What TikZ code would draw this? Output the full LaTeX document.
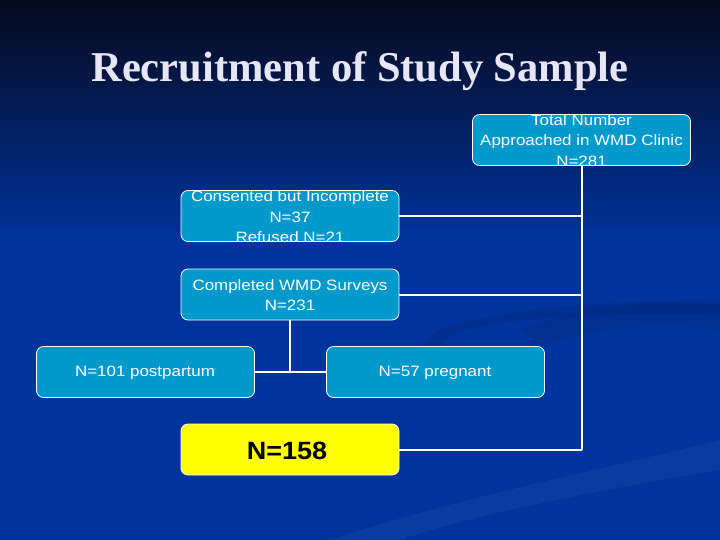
\documentclass[tikz,border=0pt]{standalone}
\usepackage{fontspec}
\setmainfont{Liberation Sans}[FakeStretch=1.13]
\newfontfamily\titlefont{Liberation Serif}
\newfontfamily\bigfont{Liberation Sans}[FakeStretch=1.08]
\usetikzlibrary{calc}
\definecolor{bgtop}{HTML}{060A1C}
\definecolor{bgmid}{HTML}{0A2066}
\definecolor{bgbot}{HTML}{00339C}
\definecolor{boxfill}{HTML}{0099CC}
\definecolor{titlecol}{HTML}{E6E6F6}
\definecolor{yellowfill}{HTML}{FFFF00}
\tikzset{
  flowbox/.style={draw=white, line width=0.8pt, fill=boxfill, rounded corners=7pt,
    minimum width=218pt, minimum height=51pt, inner sep=0pt},
  yellowbox/.style={flowbox, fill=yellowfill},
  boxtext/.style={text=white, font=\fontsize{15}{20.5}\selectfont, align=center, inner sep=0pt},
  bigtext/.style={text=black, font=\bigfont\fontsize{25}{28}\selectfont\bfseries, inner sep=0pt},
  link/.style={draw=white, line width=2pt},
}
\begin{document}
\begin{tikzpicture}[x=1pt,y=-1pt]
\useasboundingbox (0,0) rectangle (720,540);
\fill[bgbot] (0,0) rectangle (720,540);
\shade[top color=bgtop, middle color=bgmid, bottom color=bgbot] (0,0) rectangle (720,240);
% faint swooshes
\fill[black, opacity=0.07] (720,300) .. controls (560,300) and (420,320) .. (425,345) .. controls (430,370) and (540,380) .. (600,420) .. controls (560,390) and (450,370) .. (445,345) .. controls (440,325) and (560,310) .. (720,315) -- cycle;
\fill[white, opacity=0.04] (330,540) .. controls (450,500) and (600,470) .. (720,440) -- (720,470) .. controls (600,490) and (470,515) .. (400,540) -- cycle;
\fill[black, opacity=0.06] (520,330) .. controls (600,300) and (680,300) .. (720,305) -- (720,330) .. controls (660,320) and (590,330) .. (540,345) -- cycle;
% title
\node[text=titlecol, font=\titlefont\bfseries\fontsize{42.5}{46}\selectfont, anchor=base] (title) at (360,82) {Recruitment of Study Sample};
% boxes
\node[flowbox] (total) at (581.5,140) {};
\node[boxtext] (totalt) at (581.5,140.5) {Total Number\\Approached in WMD Clinic\\N=281};
\node[flowbox] (cons) at (290,216) {};
\node[boxtext] (const) at (290,217) {Consented but Incomplete\\N=37\\Refused N=21};
\node[flowbox] (comp) at (290,294.5) {};
\node[boxtext] (compt) at (290,295) {Completed WMD Surveys\\N=231};
\node[flowbox] (post) at (145.5,372) {};
\node[boxtext] (postt) at (145,373) {N=101 postpartum};
\node[flowbox] (preg) at (435.5,372) {};
\node[boxtext] (pregt) at (435,373) {N=57 pregnant};
\node[yellowbox] (final) at (290,449.5) {};
\node[bigtext] (finalt) at (287,451) {N=158};
% connectors
\coordinate (trunkend) at (total.south |- final.east);
\draw[link] (total.south) -- (trunkend);
\draw[link] (cons.east) -- (total.south |- cons.east);
\draw[link] (comp.east) -- (total.south |- comp.east);
\draw[link] (final.east) -- (trunkend);
\draw[link] (comp.south) -- (comp.south |- post.east);
\draw[link] (post.east) -- (preg.west);
\end{tikzpicture}
\end{document}
